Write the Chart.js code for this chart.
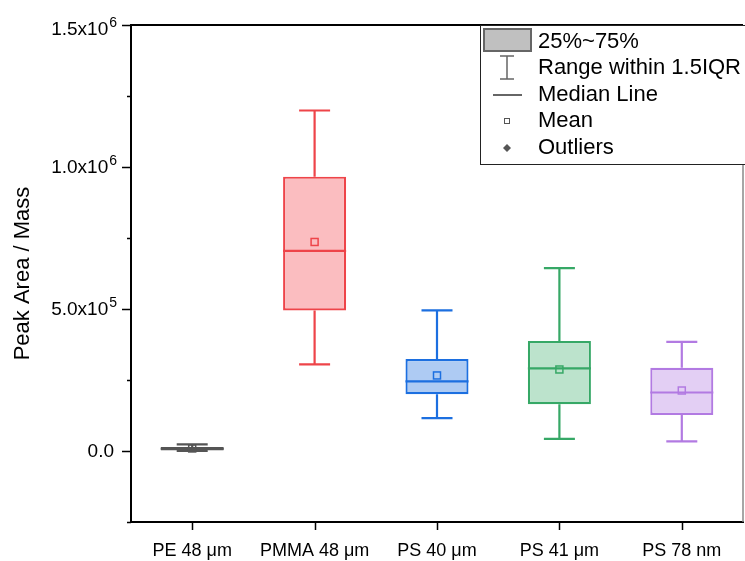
<!DOCTYPE html>
<html>
<head>
<meta charset="utf-8">
<script src="https://cdn.jsdelivr.net/npm/chart.js@4.4.0/dist/chart.umd.min.js"></script>
<style>
  html, body { margin: 0; padding: 0; background: #fff; }
  canvas { display: block; }
</style>
</head>
<body>
<canvas id="boxChart" width="745" height="561"></canvas>
<script>
// ===== DATA =====
const categories = ["PE 48 μm", "PMMA 48 μm", "PS 40 μm", "PS 41 μm", "PS 78 nm"];
const q1Values = [2000, 495000, 200000, 165000, 127000];
const q3Values = [14000, 966000, 324000, 387000, 293000];
const medianValues = [8000, 705000, 245000, 291000, 206000];
const meanValues = [9000, 736000, 266000, 287000, 213000];
const minValues = [0, 305000, 116000, 43000, 34000];
const maxValues = [23000, 1199000, 495000, 644000, 384000];

const yMajorTicks = [0, 500000, 1000000, 1500000];
const yMinorTicks = [-250000, 250000, 750000, 1250000];
const yTickMantissa = ["0.0", "5.0x10", "1.0x10", "1.5x10"];
const yTickExponent = ["", "5", "6", "6"];

const legendLabels = ["25%~75%", "Range within 1.5IQR", "Median Line", "Mean", "Outliers"];

// ===== STYLES =====
const strokeColors = ["#555555", "#ee4449", "#1c6fe0", "#36a866", "#b27ae2"];
const fillColors = ["#8a8a8a", "#fbbdc0", "#aecbf3", "#bce3cc", "#e3cff4"];
const FONT = "'Liberation Sans', Arial, sans-serif";

const boxPlotPlugin = {
  id: "boxPlot",
  afterDatasetsDraw(chart) {
    const { ctx, scales } = chart;
    const xs = scales.x;
    const ys = scales.y;
    const meta = chart.getDatasetMeta(0);
    categories.forEach((c, i) => {
      const x = xs.getPixelForValue(i);
      const half = meta.data[i].width / 2;
      const cap = 15.5;
      ctx.save();
      ctx.strokeStyle = strokeColors[i];
      ctx.lineWidth = 2.2;
      ctx.beginPath();
      // upper whisker
      ctx.moveTo(x, ys.getPixelForValue(q3Values[i]));
      ctx.lineTo(x, ys.getPixelForValue(maxValues[i]));
      ctx.moveTo(x - cap, ys.getPixelForValue(maxValues[i]));
      ctx.lineTo(x + cap, ys.getPixelForValue(maxValues[i]));
      // lower whisker
      ctx.moveTo(x, ys.getPixelForValue(q1Values[i]));
      ctx.lineTo(x, ys.getPixelForValue(minValues[i]));
      ctx.moveTo(x - cap, ys.getPixelForValue(minValues[i]));
      ctx.lineTo(x + cap, ys.getPixelForValue(minValues[i]));
      // median
      ctx.moveTo(x - half, ys.getPixelForValue(medianValues[i]));
      ctx.lineTo(x + half, ys.getPixelForValue(medianValues[i]));
      ctx.stroke();
      // mean
      const my = ys.getPixelForValue(meanValues[i]);
      ctx.lineWidth = 1.5;
      ctx.strokeRect(x - 3.5, my - 3.5, 7, 7);
      ctx.restore();
    });
  },
  afterDraw(chart) {
    const { ctx, chartArea, scales } = chart;
    const ys = scales.y;
    const xs = scales.x;
    const { left, right, top, bottom } = chartArea;
    ctx.save();

    // frame top + right
    ctx.strokeStyle = "#000";
    ctx.lineWidth = 2;
    ctx.beginPath();
    ctx.moveTo(left, top);
    ctx.lineTo(right, top);
    ctx.stroke();
    ctx.strokeStyle = "#888";
    ctx.lineWidth = 1.5;
    ctx.beginPath();
    ctx.moveTo(right, top);
    ctx.lineTo(right, bottom);
    ctx.stroke();

    // y ticks
    ctx.strokeStyle = "#000";
    ctx.lineWidth = 1.5;
    ctx.beginPath();
    yMajorTicks.forEach((v) => {
      const y = Math.round(ys.getPixelForValue(v)) + 0.5;
      ctx.moveTo(left - 9, y);
      ctx.lineTo(left, y);
    });
    yMinorTicks.forEach((v) => {
      const y = Math.round(ys.getPixelForValue(v)) + 0.5;
      ctx.moveTo(left - 4, y);
      ctx.lineTo(left, y);
    });
    // x ticks
    categories.forEach((c, i) => {
      const x = Math.round(xs.getPixelForValue(i)) + 0.5;
      ctx.moveTo(x, bottom);
      ctx.lineTo(x, bottom + 8);
    });
    ctx.stroke();

    // y tick labels
    ctx.fillStyle = "#000";
    ctx.textBaseline = "middle";
    yMajorTicks.forEach((v, i) => {
      const y = Math.max(ys.getPixelForValue(v), 29) + 1;
      const xr = 117;
      let ew = 0;
      ctx.textAlign = "right";
      if (yTickExponent[i]) {
        ctx.font = "14px " + FONT;
        ew = ctx.measureText(yTickExponent[i]).width + 1;
        ctx.fillText(yTickExponent[i], xr, y - 7);
      }
      ctx.font = "19px " + FONT;
      ctx.fillText(yTickMantissa[i], (yTickExponent[i] ? xr - ew : 114), y);
    });

    // x tick labels
    ctx.font = "18px " + FONT;
    ctx.textAlign = "center";
    categories.forEach((c, i) => {
      ctx.fillText(c, xs.getPixelForValue(i), 551);
    });

    // y title
    ctx.save();
    ctx.translate(23, (top + bottom) / 2);
    ctx.rotate(-Math.PI / 2);
    ctx.font = "22px " + FONT;
    ctx.textAlign = "center";
    ctx.fillText("Peak Area / Mass", 0, 0);
    ctx.restore();

    // legend
    const lx = 480.5, ly = 25.5, lw = 270, lh = 139;
    ctx.fillStyle = "#fff";
    ctx.fillRect(lx, ly, lw, lh);
    ctx.strokeStyle = "#222";
    ctx.lineWidth = 1;
    ctx.strokeRect(lx, ly, lw, lh);

    const rowY = [42, 68, 95, 121, 148];
    const sx = 507;
    // box symbol
    ctx.fillStyle = "#c0c0c0";
    ctx.fillRect(484, 29, 47, 22);
    ctx.strokeStyle = "#666";
    ctx.lineWidth = 2;
    ctx.strokeRect(484, 29, 47, 22);
    // range symbol
    ctx.lineWidth = 1.5;
    ctx.beginPath();
    ctx.moveTo(sx - 7, 56); ctx.lineTo(sx + 7, 56);
    ctx.moveTo(sx, 56); ctx.lineTo(sx, 79);
    ctx.moveTo(sx - 7, 79); ctx.lineTo(sx + 7, 79);
    ctx.stroke();
    // median symbol
    ctx.lineWidth = 2;
    ctx.beginPath();
    ctx.moveTo(493, 95); ctx.lineTo(522, 95);
    ctx.stroke();
    // mean symbol
    ctx.lineWidth = 1;
    ctx.strokeStyle = "#555";
    ctx.strokeRect(504.5, 118.5, 5, 5);
    // outlier symbol
    ctx.fillStyle = "#555";
    ctx.beginPath();
    ctx.moveTo(sx, 144); ctx.lineTo(sx + 4, 148); ctx.lineTo(sx, 152); ctx.lineTo(sx - 4, 148);
    ctx.closePath();
    ctx.fill();

    ctx.fillStyle = "#000";
    ctx.font = "22px " + FONT;
    ctx.textAlign = "left";
    ctx.textBaseline = "middle";
    legendLabels.forEach((t, i) => ctx.fillText(t, 538, rowY[i]));

    ctx.restore();
  },
};

new Chart(document.getElementById("boxChart"), {
  type: "bar",
  data: {
    labels: categories,
    datasets: [
      {
        data: categories.map((c, i) => [q1Values[i], q3Values[i]]),
        backgroundColor: fillColors,
        borderColor: strokeColors,
        borderWidth: 2.2,
        borderSkipped: false,
        barPercentage: 0.515,
        categoryPercentage: 1,
      },
    ],
  },
  options: {
    responsive: false,
    animation: false,
    devicePixelRatio: 1,
    layout: { padding: { left: 131, right: 2, top: 25, bottom: 39 } },
    plugins: { legend: { display: false }, tooltip: { enabled: false } },
    scales: {
      x: {
        grid: { display: false, drawTicks: false },
        ticks: { display: false },
        border: { display: true, color: "#000", width: 2 },
      },
      y: {
        min: -250000,
        max: 1500000,
        grid: { display: false, drawTicks: false },
        ticks: { display: false },
        border: { display: true, color: "#000", width: 2 },
      },
    },
  },
  plugins: [boxPlotPlugin],
});
</script>
</body>
</html>
